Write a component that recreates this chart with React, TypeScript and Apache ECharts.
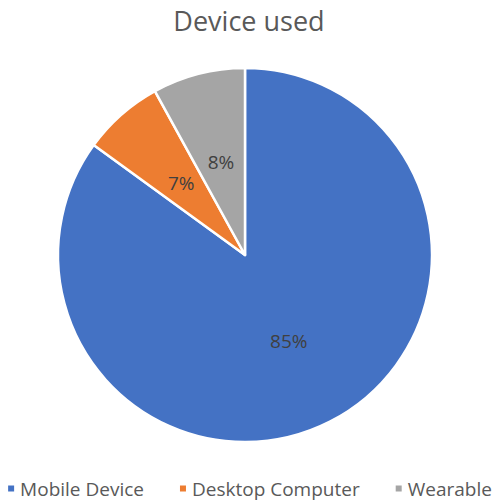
import React, { useEffect, useRef } from "react";
import * as echarts from "echarts";

const categories = ["Mobile Device", "Desktop Computer", "Wearable"];
const values = [85, 7, 8];
const colors = ["#4472C4", "#ED7D31", "#A5A5A5"];
const titleText = "Device used";

export default function App() {
  const ref = useRef<HTMLDivElement>(null);
  useEffect(() => {
    if (!ref.current) return;
    const chart = echarts.init(ref.current, undefined, { renderer: "svg" });
    chart.setOption({
      animation: false,
      backgroundColor: "#ffffff",
      title: {
        text: titleText,
        left: "center",
        top: 7,
        padding: 0,
        textStyle: {
          fontFamily: "Open Sans",
          fontSize: 27,
          fontWeight: "normal",
          color: "#595959",
        },
      },
      legend: {
        bottom: 0,
        left: "center",
        icon: "rect",
        itemWidth: 8,
        itemHeight: 8,
        itemGap: 34,
        textStyle: {
          fontFamily: "Open Sans",
          fontSize: 19,
          color: "#595959",
        },
        data: categories,
      },
      series: [
        {
          type: "pie",
          center: [245, 255],
          radius: 187,
          startAngle: 90,
          clockwise: true,
          color: colors,
          itemStyle: { borderColor: "#ffffff", borderWidth: 2.5 },
          label: {
            show: true,
            position: "inside",
            formatter: "{d}%",
            fontFamily: "Open Sans",
            fontSize: 19,
            color: "#404040",
          },
          labelLine: { show: false },
          emphasis: { disabled: true },
          data: categories.map((name, i) => ({ name, value: values[i] })),
        },
      ],
    });
    return () => chart.dispose();
  }, []);
  return (
    <div
      ref={ref}
      style={{ position: "fixed", left: 0, top: 0, width: 498, height: 503 }}
    />
  );
}
